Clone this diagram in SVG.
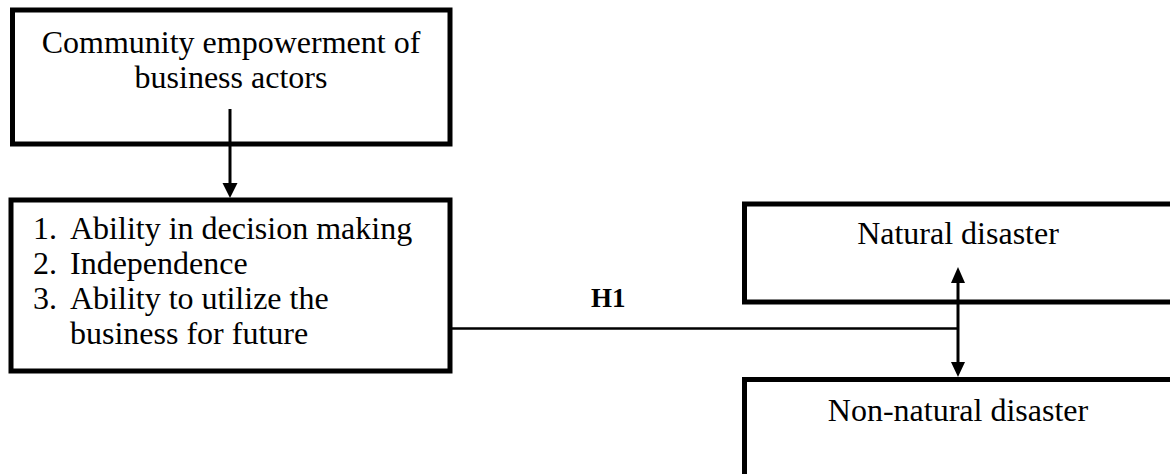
<svg xmlns="http://www.w3.org/2000/svg" width="1170" height="474" viewBox="0 0 1170 474">
<style>
.box{fill:#fff;stroke:#000;stroke-width:5}
.t{font-family:"Liberation Serif","Times New Roman",serif;font-size:32px;fill:#000}
.c{text-anchor:middle}
.ln{stroke:#000;fill:none}
</style>
<rect width="1170" height="474" fill="#fff"/>
<g id="node-community">
<rect class="box" x="12.5" y="10" width="437.5" height="134"/>
<text class="t c" x="231" y="53">Community empowerment of</text>
<text class="t c" x="231" y="88">business actors</text>
</g>
<g id="node-indicators">
<rect class="box" x="11" y="200" width="439" height="171"/>
<text class="t" x="33" y="239">1.</text><text class="t" x="70" y="239">Ability in decision making</text>
<text class="t" x="33" y="274">2.</text><text class="t" x="70" y="274">Independence</text>
<text class="t" x="33" y="309">3.</text><text class="t" x="70" y="309">Ability to utilize the</text>
<text class="t" x="70" y="344">business for future</text>
</g>
<g id="node-natural">
<rect class="box" x="744.5" y="204" width="440" height="98"/>
<text class="t c" x="958" y="244">Natural disaster</text>
</g>
<g id="node-nonnatural">
<rect class="box" x="744.5" y="379.5" width="440" height="110"/>
<text class="t c" x="958" y="421">Non-natural disaster</text>
</g>
<g id="connectors">
<line class="ln" x1="230" y1="109" x2="230" y2="184" stroke-width="3"/>
<polygon points="222.5,183 237.5,183 230,198"/>
<line class="ln" x1="452" y1="328.5" x2="958" y2="328.5" stroke-width="2.5"/>
<line class="ln" x1="958" y1="282" x2="958" y2="363" stroke-width="3"/>
<polygon points="951,283 965,283 958,267"/>
<polygon points="951,362 965,362 958,377"/>
<text x="591" y="307" font-family="Liberation Serif, Times New Roman, serif" font-size="27" font-weight="bold">H1</text>
</g>
</svg>
